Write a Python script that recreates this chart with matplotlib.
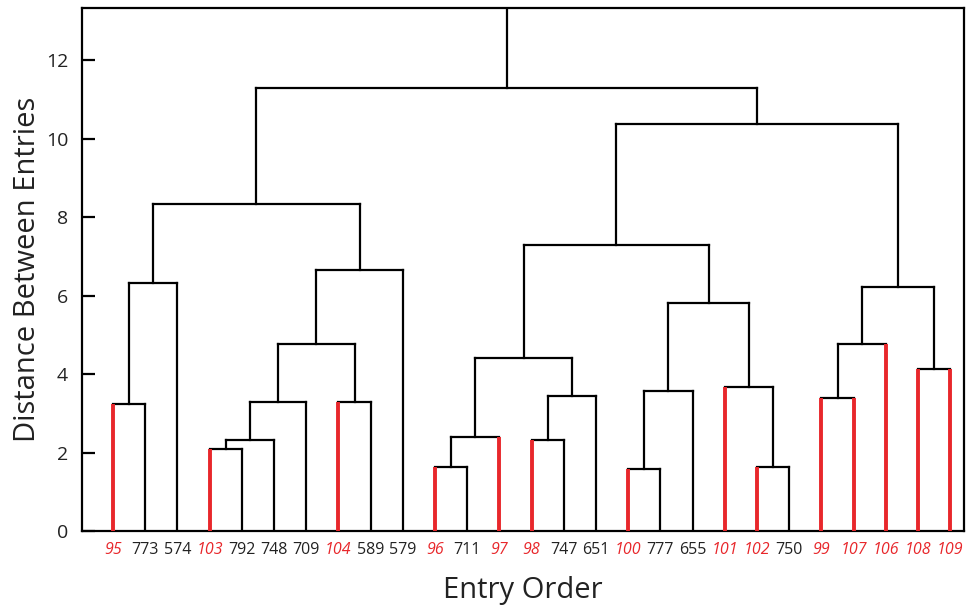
import matplotlib.pyplot as plt

plt.rcParams['font.family'] = ['Open Sans', 'DejaVu Sans']

# leaf order along the x axis and which entries are highlighted in red
leaves = ['95', '773', '574', '103', '792', '748', '709', '104', '589', '579',
          '96', '711', '97', '98', '747', '651', '100', '777', '655',
          '101', '102', '750', '99', '107', '106', '108', '109']
red_leaves = ['95', '103', '104', '96', '97', '98', '100', '101', '102',
              '99', '107', '106', '108', '109']

# merges: (left child, right child, distance); children are leaf names or merge ids "m0", "m1"...
merges = [
    ('95', '773', 3.23),    # m0
    ('m0', '574', 6.31),    # m1
    ('103', '792', 2.09),   # m2
    ('m2', '748', 2.31),    # m3
    ('m3', '709', 3.30),    # m4
    ('104', '589', 3.30),   # m5
    ('m4', 'm5', 4.76),     # m6
    ('m6', '579', 6.64),    # m7
    ('m1', 'm7', 8.34),     # m8
    ('96', '711', 1.62),    # m9
    ('m9', '97', 2.39),     # m10
    ('98', '747', 2.32),    # m11
    ('m11', '651', 3.45),   # m12
    ('m10', 'm12', 4.41),   # m13
    ('100', '777', 1.58),   # m14
    ('m14', '655', 3.58),   # m15
    ('102', '750', 1.63),   # m16
    ('101', 'm16', 3.68),   # m17
    ('m15', 'm17', 5.82),   # m18
    ('m13', 'm18', 7.28),   # m19
    ('99', '107', 3.39),    # m20
    ('m20', '106', 4.77),   # m21
    ('108', '109', 4.13),   # m22
    ('m21', 'm22', 6.22),   # m23
    ('m19', 'm23', 10.38),  # m24
    ('m8', 'm24', 11.28),   # m25 (root)
]

red = '#e8272b'
ymax = 13.33

fig = plt.figure(figsize=(9.66, 6.09), dpi=100)
ax = fig.add_axes([0.085, 0.128, 0.913, 0.859])

xpos = {name: i for i, name in enumerate(leaves)}
ypos = {name: 0.0 for name in leaves}

for k, (a, b, h) in enumerate(merges):
    xa, xb = xpos[a], xpos[b]
    for child, xc in ((a, xa), (b, xb)):
        if child in red_leaves:
            ax.plot([xc, xc], [ypos[child], h], color=red, lw=2.8,
                    solid_capstyle='butt', zorder=3)
        else:
            ax.plot([xc, xc], [ypos[child], h], color='black', lw=1.6,
                    solid_capstyle='projecting', zorder=2)
    ax.plot([xa, xb], [h, h], color='black', lw=1.6,
            solid_capstyle='projecting', zorder=2)
    xpos['m%d' % k] = (xa + xb) / 2
    ypos['m%d' % k] = h

# stem above the root
root = 'm%d' % (len(merges) - 1)
ax.plot([xpos[root], xpos[root]], [ypos[root], ymax], color='black', lw=1.6)

ax.set_xlim(-0.96, 26.43)
ax.set_ylim(0, ymax)

ax.set_xticks(range(len(leaves)))
ax.set_xticklabels(leaves)
ax.tick_params(axis='x', length=0, pad=8, labelsize=11.5, labelcolor='#222222')
for lab in ax.get_xticklabels():
    if lab.get_text() in red_leaves:
        lab.set_color(red)
        lab.set_style('italic')

ax.set_yticks([0, 2, 4, 6, 8, 10, 12])
ax.tick_params(axis='y', direction='in', length=9.5, width=1.6, labelsize=14,
               pad=10, labelcolor='#222222')

for s in ax.spines.values():
    s.set_linewidth(1.6)

ax.set_ylabel('Distance Between Entries', fontsize=21, labelpad=3, color='#222222')
ax.set_xlabel('Entry Order', fontsize=21, labelpad=13, color='#222222')

plt.savefig('out.png', dpi=100)
